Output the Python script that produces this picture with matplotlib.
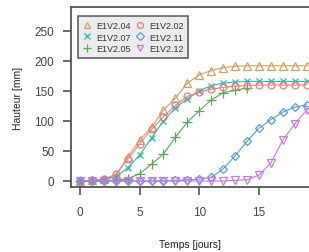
import matplotlib
matplotlib.use("Agg")
import matplotlib.pyplot as plt

plt.rcParams['font.family'] = ['Liberation Sans', 'DejaVu Sans']

days = list(range(0, 20))
names = ['E1V2.04', 'E1V2.07', 'E1V2.05', 'E1V2.02', 'E1V2.11', 'E1V2.12']

h_04 = [0, 1, 3, 8, 40, 68, 90, 118, 138, 163, 177, 184, 189, 191, 192, 192, 192, 192, 192, 192]
h_07 = [0, 0, 2, 7, 22, 43, 72, 100, 122, 137, 150, 159, 163, 165, 166, 166, 166, 166, 166, 166]
h_05 = [0, 0, 0, 1, 4, 12, 28, 45, 73, 98, 117, 135, 147, 151, 155]
h_02 = [0, 1, 3, 11, 36, 62, 86, 107, 126, 141, 148, 153, 156, 158, 159, 160, 160, 160, 160, 160]
h_11 = [0, 0, 0, 0, 0, 0, 0, 0, 1, 2, 3, 6, 20, 42, 66, 88, 102, 115, 123, 127]
h_12 = [0, 0, 0, 0, 0, 0, 0, 0, 0, 0, 0, 0, 0, 1, 2, 10, 30, 68, 95, 118]

series = [h_04, h_07, h_05, h_02, h_11, h_12]
colors = ['#cfa064', '#2fb3ae', '#5fa35a', '#e5827a', '#5a9bd0', '#c47ad6']
markers = ['^', 'x', '+', 'o', 'D', 'v']
msizes = [5.5, 5, 6.5, 5, 4.5, 5.5]

fig = plt.figure(figsize=(3.09, 2.53), dpi=100)
ax = fig.add_axes([71 / 309, 65 / 253, 238 / 309, 180 / 253])

for name, vals, c, m, s in zip(names, series, colors, markers, msizes):
    ax.plot(days[:len(vals)], vals, color=c, lw=0.8, marker=m, ms=s,
            mfc='none', mec=c, mew=0.9, label=name)

ax.set_xlim(-0.75, 19.2)
ax.set_ylim(-10, 290)
ax.set_xticks([0, 5, 10, 15])
ax.set_yticks([0, 50, 100, 150, 200, 250])
ax.spines['right'].set_visible(False)
for s in ['left', 'bottom', 'top']:
    ax.spines[s].set_color('#555555')
    ax.spines[s].set_linewidth(1.3)
ax.tick_params(axis='both', colors='#444444', labelsize=8.5, width=1.1,
               length=6)
ax.tick_params(axis='x', pad=8)
ax.tick_params(axis='y', pad=6)
ax.set_xlabel('Temps [jours]', fontsize=7.5, labelpad=15, color='#222222')
ax.set_ylabel('Hauteur [mm]', fontsize=7.5, labelpad=8, color='#222222')

leg = ax.legend(ncol=2, loc='upper left', bbox_to_anchor=(0.01, 0.975),
                fontsize=6.5, frameon=True, fancybox=False, handlelength=1.0,
                handletextpad=0.45, columnspacing=0.6, labelspacing=0.28,
                borderpad=0.55, markerscale=0.85)
leg.get_frame().set_facecolor('#ececec')
leg.get_frame().set_edgecolor('#555555')
leg.get_frame().set_linewidth(1.1)
leg.get_frame().set_alpha(1)
for t in leg.get_texts():
    t.set_color('#333333')
for h in leg.get_lines():
    h.set_linestyle('none')

fig.savefig('out.png', dpi=100)
